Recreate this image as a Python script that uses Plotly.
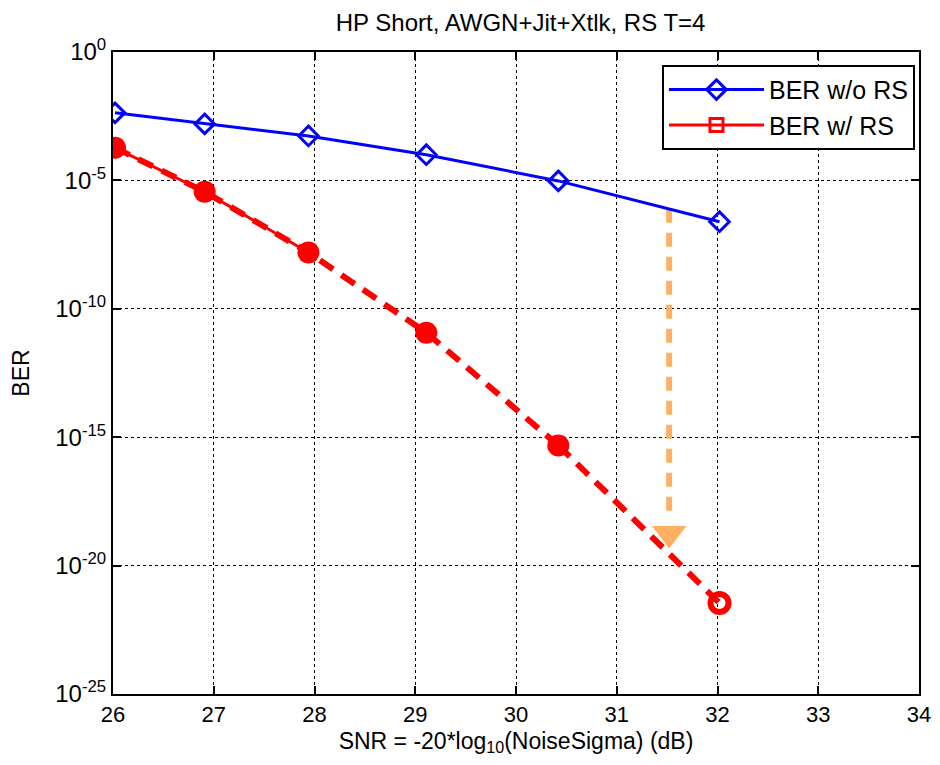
import plotly.graph_objects as go

snr_norc = [26.02, 26.91, 27.94, 29.11, 30.42, 32.02]
ber_norc = [10**-2.37, 10**-2.80, 10**-3.27, 10**-4.00, 10**-5.02, 10**-6.61]

snr_rs = [26.02, 26.91, 27.94]
ber_rs = [10**-3.73, 10**-5.44, 10**-7.81]

snr_ext = [26.02, 26.91, 27.94, 29.11, 30.42, 32.02]
ber_ext = [10**-3.73, 10**-5.44, 10**-7.81, 10**-10.93, 10**-15.32, 10**-21.46]

arrow_x = [31.52, 31.52]
arrow_y = [10**-6.1, 10**-18.2]
arrow_tip_y = [10**-18.75]

ytick_vals = [1, 1e-5, 1e-10, 1e-15, 1e-20, 1e-25]
ytick_text = ["10<sup>0</sup>", "10<sup>-5</sup>", "10<sup>-10</sup>", "10<sup>-15</sup>",
              "10<sup>-20</sup>", "10<sup>-25</sup>"]
xtick_vals = [26, 27, 28, 29, 30, 31, 32, 33, 34]

FONT = "Liberation Sans, Arial, sans-serif"

fig = go.Figure()

fig.add_trace(go.Scatter(x=arrow_x, y=arrow_y, mode="lines",
                         line=dict(color="#FFB061", width=6, dash="14px,10px"),
                         showlegend=False, hoverinfo="skip"))
fig.add_trace(go.Scatter(x=[arrow_x[0]], y=arrow_tip_y, mode="markers",
                         marker=dict(symbol="triangle-down", size=30, color="#FFB061"),
                         showlegend=False, hoverinfo="skip"))

fig.add_trace(go.Scatter(x=snr_norc, y=ber_norc, mode="lines+markers", name="BER w/o RS",
                         line=dict(color="#0000FF", width=3),
                         marker=dict(symbol="diamond-open", size=15, color="#0000FF",
                                     line=dict(width=3, color="#0000FF"))))
fig.add_trace(go.Scatter(x=snr_rs, y=ber_rs, mode="lines+markers", name="BER w/ RS",
                         line=dict(color="#FF0000", width=3),
                         marker=dict(symbol="square-open", size=13, color="#FF0000",
                                     line=dict(width=3, color="#FF0000"))))
fig.add_trace(go.Scatter(x=snr_ext[:-1], y=ber_ext[:-1], mode="lines+markers",
                         line=dict(color="#FF0000", width=6, dash="16px,10px"),
                         marker=dict(symbol="circle", size=22, color="#FF0000"),
                         showlegend=False, hoverinfo="skip"))
fig.add_trace(go.Scatter(x=snr_ext[-2:], y=ber_ext[-2:], mode="lines",
                         line=dict(color="#FF0000", width=6, dash="16px,10px"),
                         showlegend=False, hoverinfo="skip"))
fig.add_trace(go.Scatter(x=snr_ext[-1:], y=ber_ext[-1:], mode="markers",
                         marker=dict(symbol="circle-open", size=18, color="#FF0000",
                                     line=dict(width=6, color="#FF0000")),
                         showlegend=False, hoverinfo="skip"))

axis_common = dict(showline=True, linecolor="black", linewidth=2, mirror="ticks",
                   ticks="inside", ticklen=8, tickwidth=1.5, tickcolor="black",
                   showgrid=True, gridcolor="black", gridwidth=1, griddash="dot",
                   zeroline=False, automargin=False, ticklabeloverflow="allow")

fig.update_xaxes(range=[26, 34], tickvals=xtick_vals,
                 tickfont=dict(family=FONT, size=22, color="black"),
                 title=dict(text="SNR = -20*log<sub>10</sub>(NoiseSigma) (dB)",
                            font=dict(family=FONT, size=23, color="black"), standoff=6),
                 **axis_common)
fig.update_yaxes(type="log", range=[-25, 0], tickvals=ytick_vals, ticktext=ytick_text,
                 tickfont=dict(family=FONT, size=24, color="black"),
                 title=dict(text="BER", font=dict(family=FONT, size=23, color="black"), standoff=22),
                 **axis_common)

fig.update_layout(
    width=932, height=749,
    margin=dict(l=105, r=21, t=44, b=63),
    plot_bgcolor="white", paper_bgcolor="white",
    title=dict(text="HP Short, AWGN+Jit+Xtlk, RS T=4", x=0.55, xanchor="center",
               y=0.981, yanchor="middle",
               font=dict(family=FONT, size=24, color="black")),
    legend=dict(x=0.995, y=0.98, xanchor="right", yanchor="top",
                bgcolor="white", bordercolor="black", borderwidth=2,
                font=dict(family=FONT, size=25, color="black"),
                itemwidth=95, tracegroupgap=2),
    showlegend=True,
)

fig.write_html("out.html")
